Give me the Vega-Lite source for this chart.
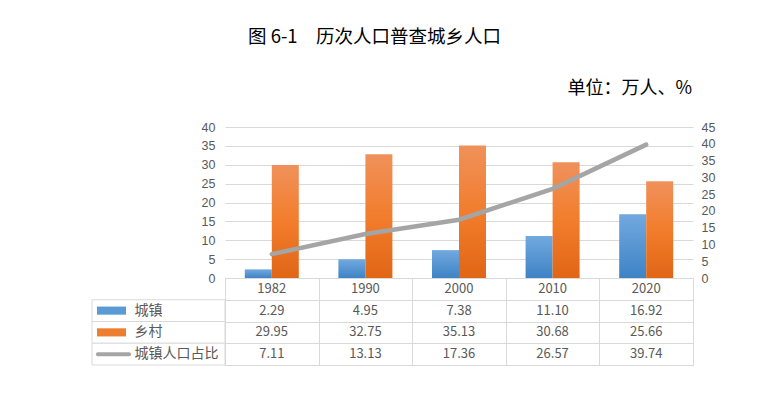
{
  "$schema": "https://vega.github.io/schema/vega-lite/v6.json",
  "background": "white",
  "padding": {"left": 89, "top": 27, "right": 10, "bottom": 10},
  "title": {
    "text": "图 6-1　历次人口普查城乡人口",
    "font": "Noto Sans CJK SC",
    "fontSize": 18.5,
    "fontWeight": "normal",
    "color": "#000000",
    "anchor": "start",
    "frame": "group",
    "dx": 156,
    "offset": 34
  },
  "datasets": {
    "census": [
      {"year": "1982", "城镇": 2.29, "乡村": 29.95, "城镇人口占比": 7.11},
      {"year": "1990", "城镇": 4.95, "乡村": 32.75, "城镇人口占比": 13.13},
      {"year": "2000", "城镇": 7.38, "乡村": 35.13, "城镇人口占比": 17.36},
      {"year": "2010", "城镇": 11.10, "乡村": 30.68, "城镇人口占比": 26.57},
      {"year": "2020", "城镇": 16.92, "乡村": 25.66, "城镇人口占比": 39.74}
    ]
  },
  "columns": 2,
  "spacing": 0,
  "bounds": "flush",
  "concat": [
    {
      "width": 133,
      "height": 151,
      "data": {"values": []},
      "mark": "text"
    },
    {
      "width": 468,
      "height": 151,
      "title": {
        "text": "单位：万人、%",
        "anchor": "end",
        "frame": "group",
        "font": "Noto Sans CJK SC",
        "fontSize": 18,
        "fontWeight": "normal",
        "color": "#000000",
        "dx": -1,
        "offset": 23
      },
      "data": {"name": "census"},
      "layer": [
        {
          "transform": [{"fold": ["城镇", "乡村"], "as": ["series", "value"]}],
          "encoding": {
            "x": {
              "field": "year",
              "type": "nominal",
              "axis": null,
              "scale": {"paddingInner": 0.423, "paddingOuter": 0.2115}
            },
            "xOffset": {
              "field": "series",
              "type": "nominal",
              "scale": {"domain": ["城镇", "乡村"], "paddingInner": 0, "paddingOuter": 0}
            },
            "y": {
              "field": "value",
              "type": "quantitative",
              "scale": {"domain": [0, 40]},
              "axis": {
                "orient": "left",
                "title": null,
                "values": [0, 5, 10, 15, 20, 25, 30, 35, 40],
                "grid": true,
                "gridColor": "#d9d9d9",
                "domain": false,
                "ticks": false,
                "labelPadding": 10
              }
            }
          },
          "layer": [
            {
              "transform": [{"filter": "datum.series === '城镇'"}],
              "mark": {
                "type": "bar",
                "color": {
                  "gradient": "linear",
                  "x1": 0, "y1": 0, "x2": 0, "y2": 1,
                  "stops": [
                    {"offset": 0, "color": "#72a9df"},
                    {"offset": 1, "color": "#3e83c5"}
                  ]
                }
              }
            },
            {
              "transform": [{"filter": "datum.series === '乡村'"}],
              "mark": {
                "type": "bar",
                "color": {
                  "gradient": "linear",
                  "x1": 0, "y1": 0, "x2": 0, "y2": 1,
                  "stops": [
                    {"offset": 0, "color": "#f0915b"},
                    {"offset": 0.5, "color": "#f27d2c"},
                    {"offset": 1, "color": "#e06616"}
                  ]
                }
              }
            }
          ]
        },
        {
          "mark": {"type": "line", "color": "#a5a5a5", "strokeWidth": 4.5, "strokeCap": "round"},
          "encoding": {
            "x": {"field": "year", "type": "nominal"},
            "y": {
              "field": "城镇人口占比",
              "type": "quantitative",
              "scale": {"domain": [0, 45]},
              "axis": {
                "orient": "right",
                "title": null,
                "values": [0, 5, 10, 15, 20, 25, 30, 35, 40, 45],
                "grid": false,
                "domain": false,
                "ticks": false,
                "labelPadding": 8
              }
            }
          }
        }
      ],
      "resolve": {"scale": {"y": "independent"}}
    },
    {
      "width": 133,
      "height": 87,
      "data": {"values": [{"series": "城镇"}, {"series": "乡村"}, {"series": "城镇人口占比"}]},
      "encoding": {
        "y": {
          "field": "series",
          "type": "nominal",
          "axis": null,
          "scale": {"domain": ["年份", "城镇", "乡村", "城镇人口占比"], "paddingInner": 0, "paddingOuter": 0}
        }
      },
      "layer": [
        {"mark": {"type": "rect", "fill": "white", "stroke": "#d9d9d9", "strokeWidth": 1}},
        {
          "transform": [{"filter": "datum.series !== '城镇人口占比'"}],
          "mark": {
            "type": "point",
            "filled": true,
            "opacity": 1,
            "shape": "M-1,-0.28H1V0.28H-1Z",
            "size": 841,
            "xOffset": -47
          },
          "encoding": {
            "color": {
              "field": "series",
              "type": "nominal",
              "legend": null,
              "scale": {"domain": ["城镇", "乡村"], "range": ["#5b9bd5", "#ed7d31"]}
            }
          }
        },
        {
          "transform": [{"filter": "datum.series === '城镇人口占比'"}],
          "mark": {
            "type": "point",
            "filled": false,
            "opacity": 1,
            "shape": "M-0.89,0H0.89",
            "size": 1225,
            "strokeWidth": 4,
            "strokeCap": "round",
            "color": "#a5a5a5",
            "xOffset": -45
          }
        },
        {
          "mark": {
            "type": "text",
            "align": "left",
            "dx": -24,
            "font": "Noto Sans CJK SC",
            "fontSize": 14,
            "color": "#595959"
          },
          "encoding": {"text": {"field": "series"}}
        }
      ]
    },
    {
      "width": 468,
      "height": 87,
      "view": {"stroke": "#d9d9d9", "strokeWidth": 1},
      "data": {"name": "census"},
      "transform": [{"fold": ["城镇", "乡村", "城镇人口占比"], "as": ["series", "value"]}],
      "encoding": {
        "x": {
          "field": "year",
          "type": "nominal",
          "scale": {"paddingInner": 0, "paddingOuter": 0},
          "axis": {
            "orient": "top",
            "labels": false,
            "ticks": false,
            "domain": false,
            "title": null,
            "grid": true,
            "gridColor": "#d9d9d9",
            "tickBand": "extent"
          }
        },
        "y": {
          "field": "series",
          "type": "nominal",
          "scale": {"domain": ["年份", "城镇", "乡村", "城镇人口占比"], "paddingInner": 0, "paddingOuter": 0},
          "axis": {
            "labels": false,
            "ticks": false,
            "domain": false,
            "title": null,
            "grid": true,
            "gridColor": "#d9d9d9",
            "tickBand": "extent"
          }
        }
      },
      "layer": [
        {
          "mark": {"type": "text", "font": "Noto Sans CJK SC", "fontSize": 13, "color": "#595959"},
          "encoding": {"text": {"field": "value", "type": "quantitative", "format": ".2f"}}
        },
        {
          "transform": [{"filter": "datum.series === '城镇'"}],
          "mark": {"type": "text", "font": "Noto Sans CJK SC", "fontSize": 13, "color": "#595959"},
          "encoding": {
            "y": {"datum": "年份", "type": "nominal"},
            "text": {"field": "year"}
          }
        }
      ]
    }
  ],
  "config": {
    "view": {"stroke": null},
    "font": "Noto Sans CJK SC",
    "axis": {
      "labelFont": "Liberation Sans",
      "labelFontSize": 12.5,
      "labelColor": "#595959"
    }
  }
}
